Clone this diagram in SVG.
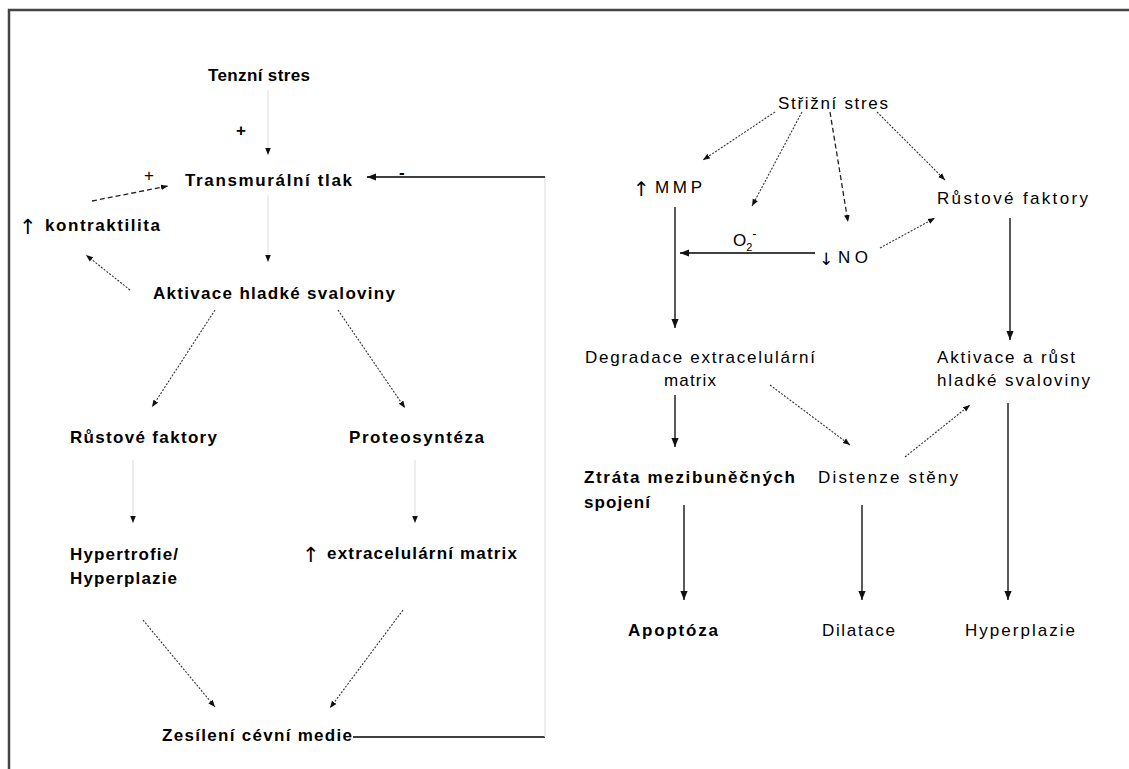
<svg xmlns="http://www.w3.org/2000/svg" width="1129" height="769" viewBox="0 0 1129 769">
<style>
.b{font-family:"Liberation Sans",Arial,sans-serif;font-size:17px;font-weight:bold;fill:#000}
.r{font-family:"Liberation Sans",Arial,sans-serif;font-size:17px;font-weight:normal;fill:#000}
.ar{font-family:"DejaVu Sans",sans-serif;font-weight:normal;fill:#000}
.s{stroke:#000;stroke-width:1.3;fill:none}
.f{stroke:#e2e2e2;stroke-width:1.2;fill:none}
.d{stroke:#333;stroke-width:1.1;fill:none;stroke-dasharray:2 1.5}
.dd{stroke:#222;stroke-width:1.3;fill:none;stroke-dasharray:5 3}
</style>
<defs>
<marker id="ah" viewBox="0 0 10 10" refX="10" refY="5" markerWidth="9" markerHeight="9" markerUnits="userSpaceOnUse" orient="auto"><path d="M0,1 L10,5 L0,9 z" fill="#111"/></marker>
<marker id="sm" viewBox="0 0 10 10" refX="10" refY="5" markerWidth="7" markerHeight="7" markerUnits="userSpaceOnUse" orient="auto"><path d="M0,1 L10,5 L0,9 z" fill="#111"/></marker>
</defs>
<rect width="1129" height="769" fill="#fff"/>
<g id="frame"><path d="M9,769 V10 H1129" stroke="#444" stroke-width="2.5" fill="none"/></g>

<g id="connectors">
<line class="f" x1="268" y1="90" x2="268" y2="155" marker-end="url(#sm)"/>
<line class="f" x1="268" y1="195" x2="268" y2="262" marker-end="url(#sm)"/>
<line class="dd" x1="92" y1="201" x2="168" y2="186" marker-end="url(#sm)"/>
<line class="d" x1="130" y1="290" x2="86" y2="255" marker-end="url(#sm)"/>
<line class="d" x1="215" y1="310" x2="152" y2="407" marker-end="url(#sm)"/>
<line class="d" x1="338" y1="310" x2="405" y2="408" marker-end="url(#sm)"/>
<line class="f" x1="133" y1="460" x2="133" y2="523" marker-end="url(#sm)"/>
<line class="f" x1="415" y1="460" x2="415" y2="523" marker-end="url(#sm)"/>
<line class="d" x1="143" y1="620" x2="215" y2="707" marker-end="url(#sm)"/>
<line class="d" x1="403" y1="610" x2="330" y2="708" marker-end="url(#sm)"/>
<line class="s" x1="353" y1="737" x2="545" y2="737"/>
<line class="f" x1="545" y1="737" x2="545" y2="177"/>
<line class="s" x1="545" y1="177" x2="367" y2="177" marker-end="url(#ah)"/>

<line class="d" x1="775" y1="112" x2="703" y2="160" marker-end="url(#sm)"/>
<line class="d" x1="802" y1="112" x2="752" y2="206" marker-end="url(#sm)"/>
<line class="dd" x1="830" y1="112" x2="848" y2="222" marker-end="url(#sm)"/>
<line class="d" x1="877" y1="112" x2="945" y2="180" marker-end="url(#sm)"/>
<line class="s" x1="815" y1="253" x2="680" y2="253" marker-end="url(#ah)"/>
<line class="d" x1="880" y1="248" x2="935" y2="218" marker-end="url(#sm)"/>
<line class="s" x1="675" y1="207" x2="675" y2="328" marker-end="url(#ah)"/>
<line class="s" x1="1010" y1="218" x2="1010" y2="340" marker-end="url(#ah)"/>
<line class="s" x1="675" y1="395" x2="675" y2="447" marker-end="url(#ah)"/>
<line class="d" x1="770" y1="385" x2="850" y2="445" marker-end="url(#sm)"/>
<line class="d" x1="905" y1="457" x2="970" y2="405" marker-end="url(#sm)"/>
<line class="s" x1="1008" y1="403" x2="1008" y2="600" marker-end="url(#ah)"/>
<line class="s" x1="684" y1="505" x2="684" y2="600" marker-end="url(#ah)"/>
<line class="s" x1="862" y1="505" x2="862" y2="600" marker-end="url(#ah)"/>
</g>

<g id="labels">
<text class="b" x="236" y="136">+</text>
<text class="r" x="144" y="181" font-size="14">+</text>
<text class="b" x="399" y="178">-</text>
<text class="r" x="733" y="246">O<tspan font-size="11" dy="5">2</tspan><tspan font-size="13" dy="-13">-</tspan></text>
</g>

<g id="n-tenzni"><text class="b" x="208" y="81" textLength="102" lengthAdjust="spacing">Tenzní stres</text></g>
<g id="n-transmuralni"><text class="b" x="185" y="186" textLength="167" lengthAdjust="spacing">Transmurální tlak</text></g>
<g id="n-kontraktilita"><text class="ar" x="19" y="234" font-size="21">↑</text><text class="b" x="45" y="231" textLength="115" lengthAdjust="spacing">kontraktilita</text></g>
<g id="n-aktivace"><text class="b" x="153" y="299" textLength="242" lengthAdjust="spacing">Aktivace hladké svaloviny</text></g>
<g id="n-rustove-l"><text class="b" x="70" y="443" textLength="147" lengthAdjust="spacing">Růstové faktory</text></g>
<g id="n-proteosynteza"><text class="b" x="349" y="443" textLength="135" lengthAdjust="spacing">Proteosyntéza</text></g>
<g id="n-hypertrofie"><text class="b" x="70" y="560" textLength="108" lengthAdjust="spacing">Hypertrofie/</text><text class="b" x="70" y="584" textLength="107" lengthAdjust="spacing">Hyperplazie</text></g>
<g id="n-ecm"><text class="ar" x="302" y="562" font-size="21" font-weight="bold">↑</text><text class="b" x="327" y="559" textLength="190" lengthAdjust="spacing">extracelulární matrix</text></g>
<g id="n-zesileni"><text class="b" x="162" y="741" textLength="190" lengthAdjust="spacing">Zesílení cévní medie</text></g>

<g id="n-strizni"><text class="r" x="778" y="109" textLength="110" lengthAdjust="spacing">Střižní stres</text></g>
<g id="n-mmp"><text class="ar" x="633" y="196" font-size="20">↑</text><text class="r" x="655" y="193" textLength="47" lengthAdjust="spacing">MMP</text></g>
<g id="n-rustove-r"><text class="r" x="937" y="204" textLength="151" lengthAdjust="spacing">Růstové faktory</text></g>
<g id="n-no"><text class="ar" x="819" y="265" font-size="17">↓</text><text class="r" x="838" y="263" textLength="30" lengthAdjust="spacing">NO</text></g>
<g id="n-degradace"><text class="r" x="585" y="363" textLength="230" lengthAdjust="spacing">Degradace extracelulární</text><text class="r" x="664" y="386" textLength="52" lengthAdjust="spacing">matrix</text></g>
<g id="n-aktivace-r"><text class="r" x="937" y="363" textLength="138" lengthAdjust="spacing">Aktivace a růst</text><text class="r" x="937" y="386" textLength="153" lengthAdjust="spacing">hladké svaloviny</text></g>
<g id="n-ztrata"><text class="b" x="584" y="483" textLength="211" lengthAdjust="spacing">Ztráta mezibuněčných</text><text class="b" x="584" y="508" textLength="66" lengthAdjust="spacing">spojení</text></g>
<g id="n-distenze"><text class="r" x="818" y="483" textLength="140" lengthAdjust="spacing">Distenze stěny</text></g>
<g id="n-apoptoza"><text class="b" x="628" y="636" textLength="90" lengthAdjust="spacing">Apoptóza</text></g>
<g id="n-dilatace"><text class="r" x="822" y="636" textLength="73" lengthAdjust="spacing">Dilatace</text></g>
<g id="n-hyperplazie"><text class="r" x="965" y="636" textLength="110" lengthAdjust="spacing">Hyperplazie</text></g>
</svg>
